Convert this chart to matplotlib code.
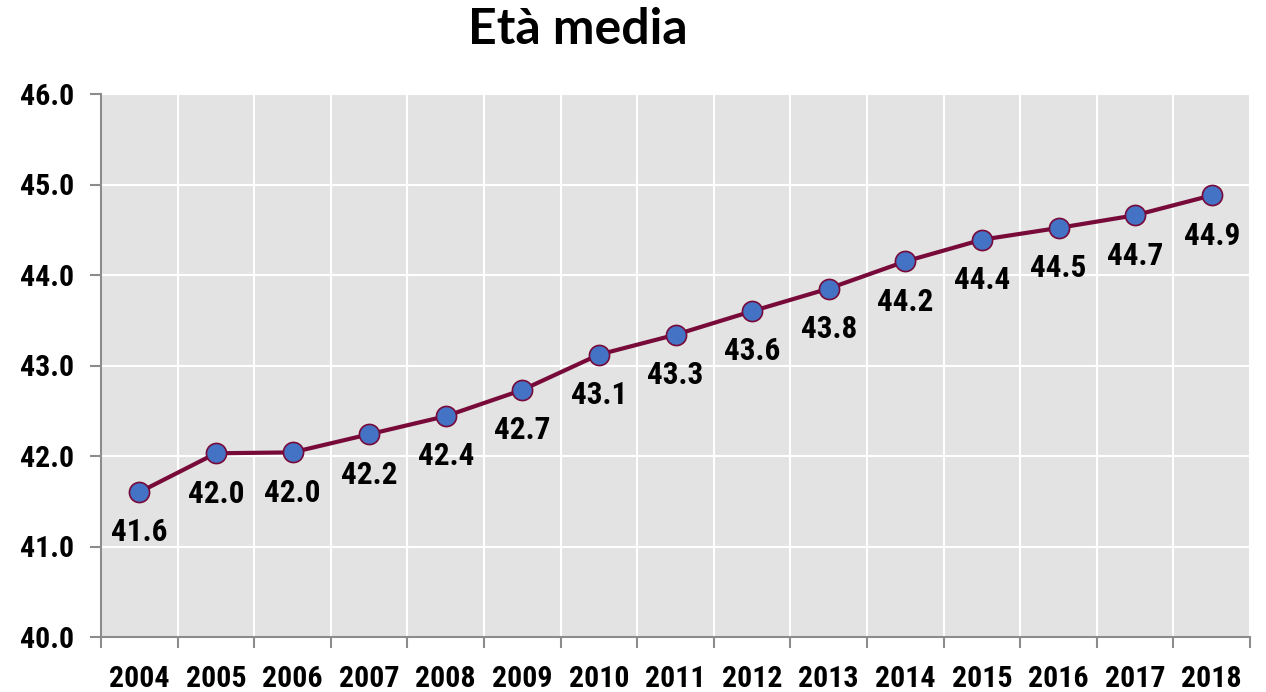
import matplotlib
matplotlib.use("Agg")
import matplotlib.pyplot as plt
from matplotlib import font_manager as fm
from matplotlib.ticker import FixedLocator, NullFormatter
import os

years = ["2004", "2005", "2006", "2007", "2008", "2009", "2010", "2011",
         "2012", "2013", "2014", "2015", "2016", "2017", "2018"]
eta_media = [41.60, 42.03, 42.04, 42.24, 42.44, 42.73, 43.12, 43.34,
             43.60, 43.85, 44.15, 44.39, 44.52, 44.66, 44.88]
labels = ["41.6", "42.0", "42.0", "42.2", "42.4", "42.7", "43.1", "43.3",
          "43.6", "43.8", "44.2", "44.4", "44.5", "44.7", "44.9"]
y_ticks = [40, 41, 42, 43, 44, 45, 46]

# find a condensed bold font
files = fm.findSystemFonts()
prefs = ["liberationsansnarrow-bold.", "robotocondensed-bold.", "opensans_condensed-bold",
         "opensanscondensed-bold", "dejavusanscondensed-bold."]
font_file = None
for p in prefs:
    for f in files:
        if os.path.basename(f).lower().startswith(p):
            font_file = f
            break
    if font_file:
        break

def fp(size):
    if font_file:
        return fm.FontProperties(fname=font_file, size=size)
    return fm.FontProperties(family="DejaVu Sans", weight="bold", stretch="condensed", size=size)

fig = plt.figure(figsize=(12.66, 6.92), dpi=100)
ax = fig.add_axes([101/1266, 1-637/692, (1250-101)/1266, (637-94)/692])
ax.set_facecolor("#e3e3e3")

x = list(range(len(years)))
ax.plot(x, eta_media, color="#780a3a", lw=3, marker="o", markersize=14.5,
        markerfacecolor="#4472c4", markeredgecolor="#780a3a", markeredgewidth=1.2,
        zorder=3)
for xi, yi, lab in zip(x, eta_media, labels):
    ax.annotate(lab, (xi, yi), xytext=(0, -29), textcoords="offset points",
                ha="center", va="center", fontproperties=fp(22.5), color="black")

ax.set_xlim(-0.5, len(years) - 0.5)
ax.set_ylim(40, 46)
ax.xaxis.set_major_locator(FixedLocator([i - 0.5 for i in range(len(years) + 1)]))
ax.xaxis.set_major_formatter(NullFormatter())
ax.xaxis.set_minor_locator(FixedLocator(x))
ax.set_xticklabels(years, minor=True)
ax.set_yticks(y_ticks)
ax.set_yticklabels([f"{v:.1f}" for v in y_ticks])

ax.grid(True, which="major", color="white", lw=1.5)
ax.set_axisbelow(True)
for s in ["top", "right"]:
    ax.spines[s].set_visible(False)
for s in ["left", "bottom"]:
    ax.spines[s].set_color("#8c8c8c")
    ax.spines[s].set_linewidth(1.5)
ax.tick_params(axis="x", which="major", length=8, color="#8c8c8c", width=1.5)
ax.tick_params(axis="x", which="minor", length=0, pad=20)
ax.tick_params(axis="y", length=8, color="#8c8c8c", width=1.5, pad=11)
for t in ax.get_xticklabels(minor=True) + ax.get_yticklabels():
    t.set_fontproperties(fp(21.5))

fig.text(578/1266, 1-30/692, "Età media", ha="center", va="center",
         fontsize=36, fontweight="bold", family=["Lato", "DejaVu Sans"])

fig.savefig("out.png", dpi=100)
